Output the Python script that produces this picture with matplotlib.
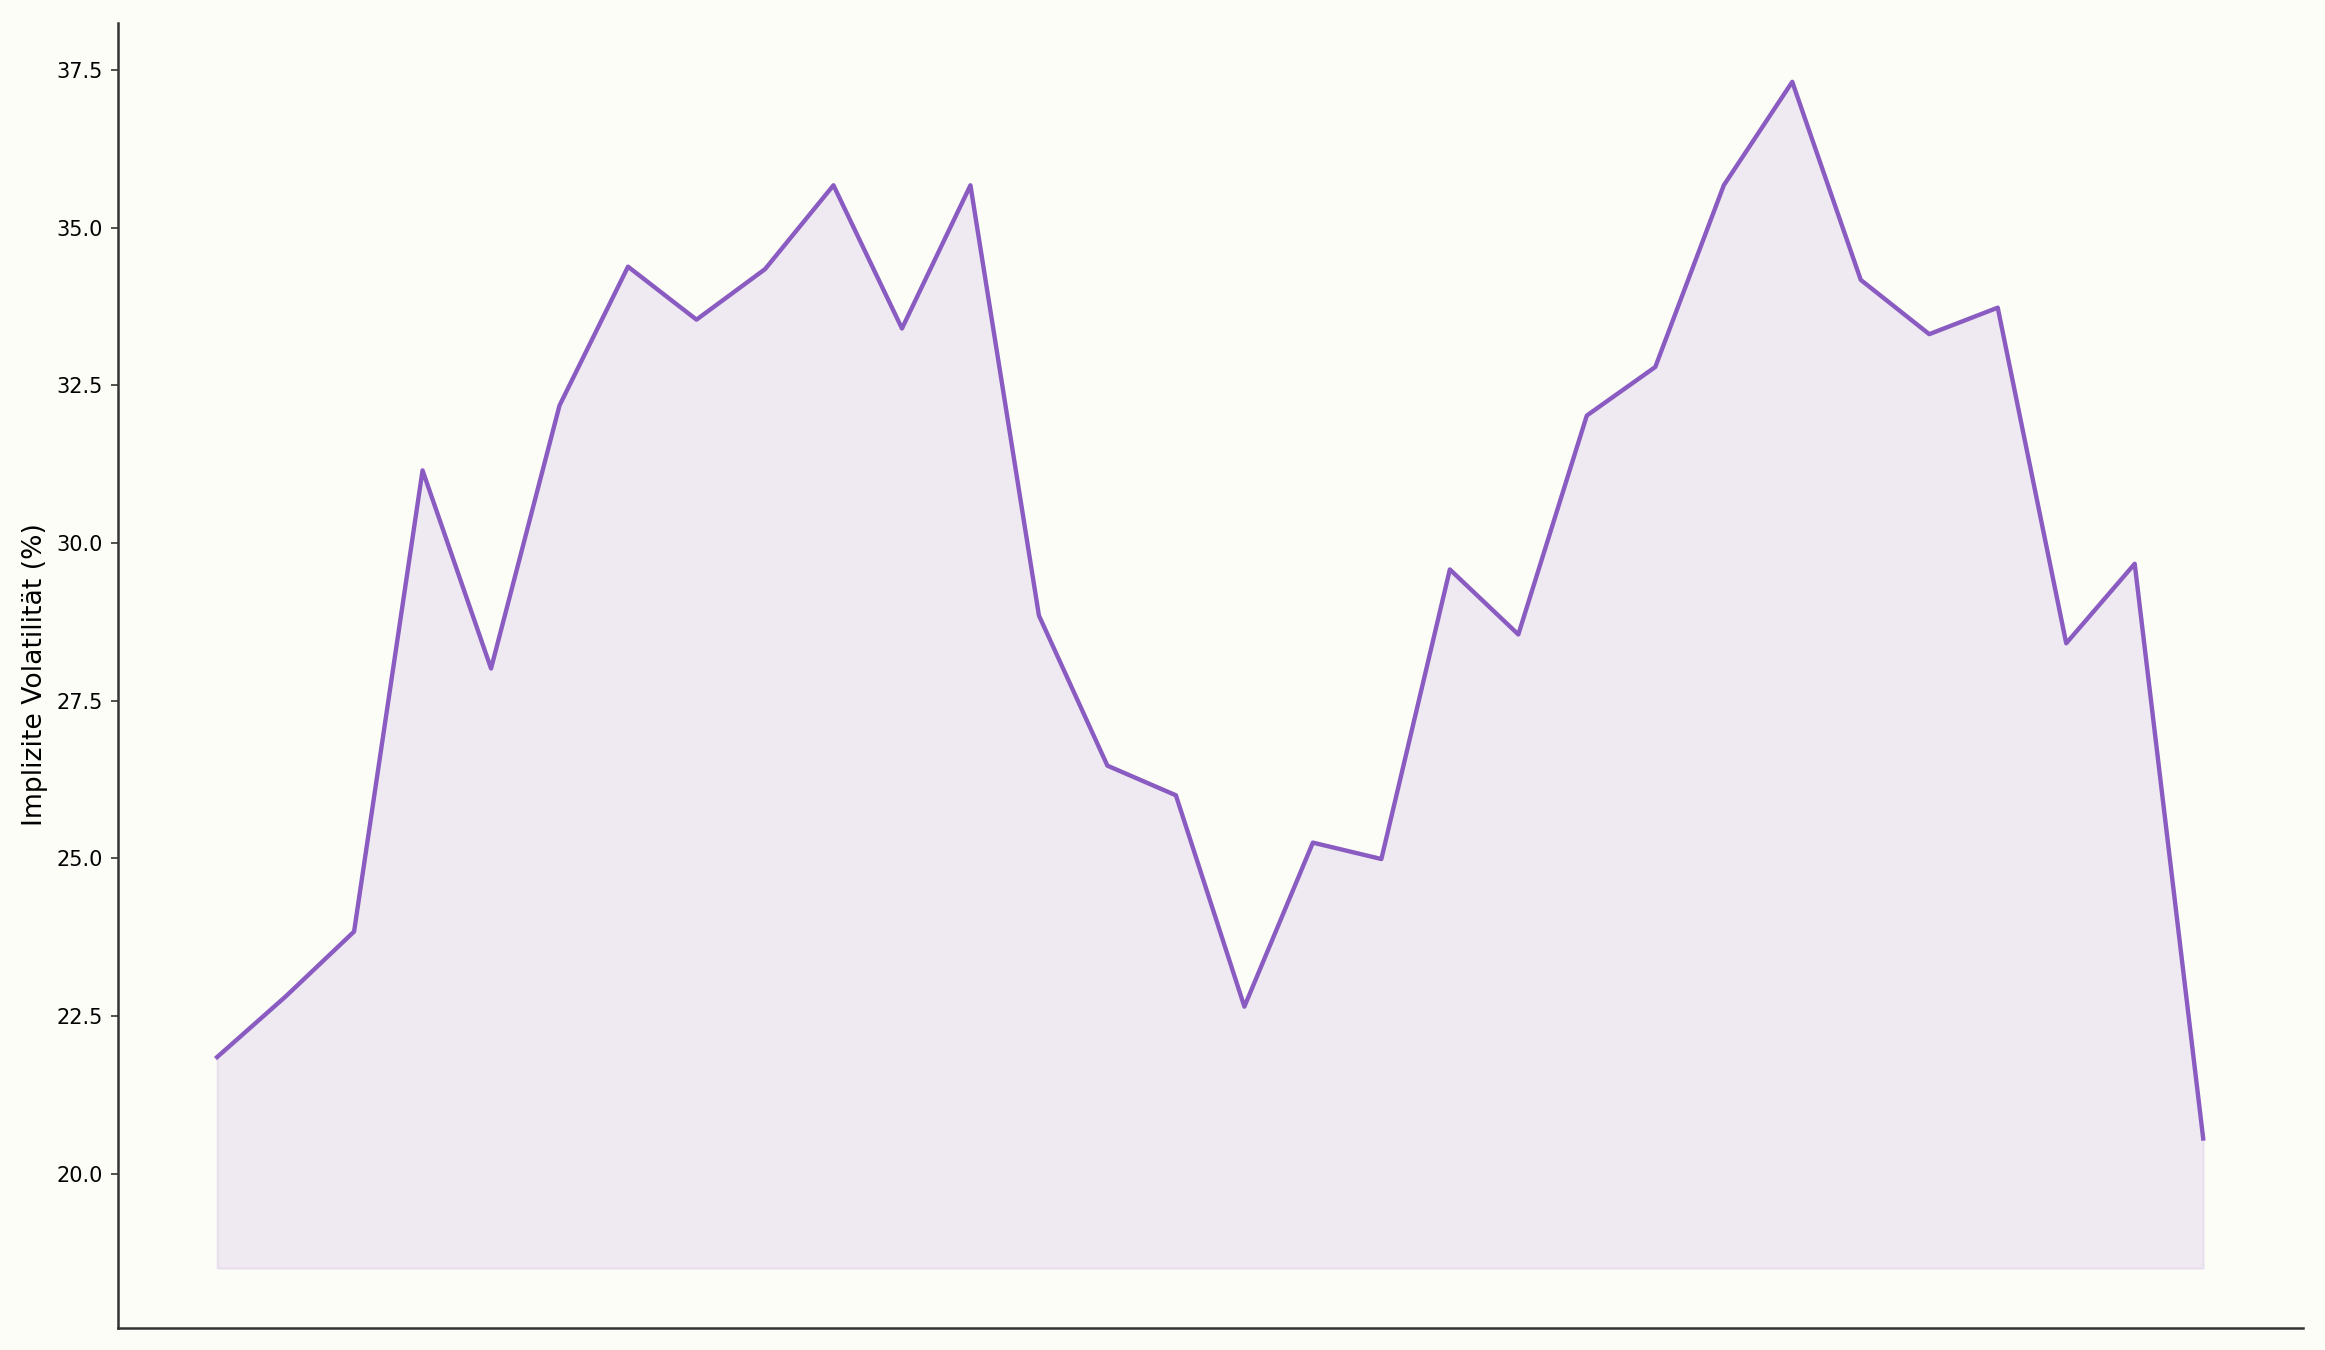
import numpy as np
import matplotlib.pyplot as plt

# Werte
tage = np.arange(30)
iv = [21.85, 22.81, 23.84, 31.15, 28.01, 32.18, 34.38, 33.54, 34.34, 35.67,
      33.40, 35.67, 28.85, 26.47, 26.00, 22.65, 25.25, 24.99, 29.58, 28.55,
      32.02, 32.79, 35.67, 37.31, 34.17, 33.31, 33.73, 28.41, 29.67, 20.56]

bg = '#fdfdf8'
col = '#8a5cc2'

fig, ax = plt.subplots(figsize=(15.5, 9), dpi=150)
fig.patch.set_facecolor(bg)
ax.set_facecolor(bg)

ax.plot(tage, iv, color=col, linewidth=2.1)
ax.fill_between(tage, iv, min(iv) * 0.9, color=col, alpha=0.12)

ax.set_ylabel('Implizite Volatilität (%)', fontsize=12.8)
ax.set_xticks([])
ax.tick_params(axis='y', labelsize=10, color='#333333')
for s in ['top', 'right']:
    ax.spines[s].set_visible(False)
for s in ['left', 'bottom']:
    ax.spines[s].set_color('#333333')
    ax.spines[s].set_linewidth(1.2)

plt.tight_layout()
plt.savefig('out.png', dpi=150, facecolor=bg)
plt.close()
